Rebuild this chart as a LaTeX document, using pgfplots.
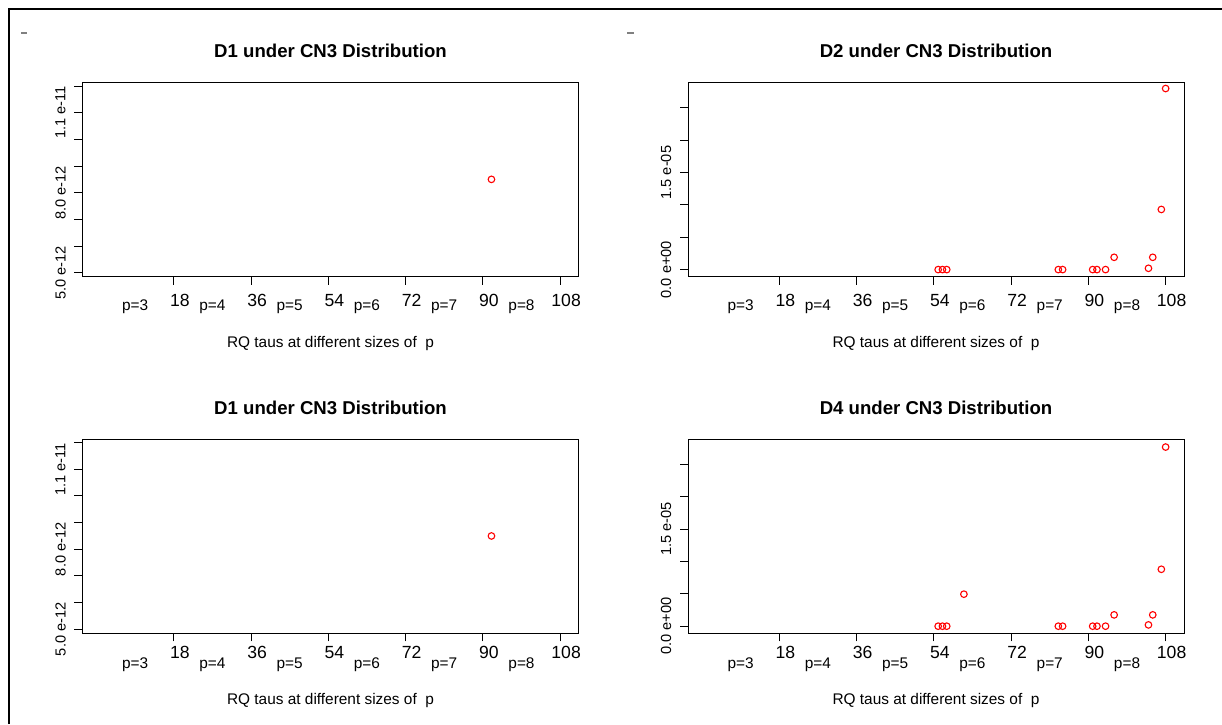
\documentclass[border=0pt]{standalone}
\usepackage{pgfplots}
\pgfplotsset{compat=1.18}
\usepackage{fontspec}
\setmainfont{Liberation Sans}

\pgfplotstableread{
x y
92 8.5e-12
}\Done

\pgfplotstableread{
x y
55 0
56 0
57 0
83 0
84 0
91 0
92 0
94 0
96 1.9e-6
104 0.2e-6
105 1.9e-6
107 9.3e-6
108 28.0e-6
}\Dtwo

\pgfplotstableread{
x y
55 0
56 0
57 0
61 4.95e-6
83 0
84 0
91 0
92 0
94 0
96 1.75e-6
104 0.2e-6
105 1.75e-6
107 8.8e-6
108 27.7e-6
}\Dfour

\pgfplotsset{
  rplot/.style={
    scale only axis, width=248pt, height=97pt,
    xmin=-3.28, xmax=112.28,
    axis line style={line width=0.5pt},
    tick align=outside, xtick pos=bottom, ytick pos=left,
    major tick length=4pt,
    tick style={line width=0.5pt, black},
    xtick={18,36,54,72,90,108},
    xticklabels={18,36,54,72,90,108},
    xticklabel style={font=\fontsize{8.8}{10}\selectfont, anchor=base, xshift=3pt},
    extra x ticks={9,27,45,63,81,99},
    extra x tick labels={p=3,p=4,p=5,p=6,p=7,p=8},
    extra x tick style={major tick length=0pt, xticklabel style={font=\fontsize{7.7}{9}\selectfont, xshift=-3pt}},
    yticklabel style={font=\fontsize{7.3}{9}\selectfont, rotate=90, anchor=center, yshift=7pt},
    scaled y ticks=false,
    title style={font=\bfseries\fontsize{9.3}{11}\selectfont, at={(0.5,1)}, anchor=base, yshift=6.5pt},
    xlabel={RQ taus at different sizes of\ \ p},
    xlabel style={font=\fontsize{7.7}{9}\selectfont, at={(0.5,0)}, anchor=base, yshift=-35.5pt},
  },
  dA/.style={
    ymin=4.85e-12, ymax=12.125e-12,
    ytick={5e-12,6e-12,7e-12,8e-12,9e-12,10e-12,11e-12,12e-12},
    yticklabels={5.0 e-12,{},{},8.0 e-12,{},{},1.1 e-11,{}},
  },
  dB/.style={
    ymin=-1.1e-6, ymax=28.9e-6,
    ytick={0,5e-6,10e-6,15e-6,20e-6,25e-6},
    yticklabels={0.0 e+00,{},{},1.5 e-05,{},{}},
  },
  toprow/.style={
    xticklabel style={yshift=-11pt},
    extra x tick style={xticklabel style={yshift=-5.7pt}},
  },
  botrow/.style={
    xticklabel style={yshift=-8.5pt},
    extra x tick style={xticklabel style={yshift=-9pt}},
  },
  pts/.style={only marks, mark=o, mark size=1.65pt, color=red, mark options={line width=0.55pt}},
}

\begin{document}
\begin{tikzpicture}
\useasboundingbox (0,0) rectangle (611pt,362pt);
\draw[line width=1.2pt] (4.5pt,0) -- (4.5pt,357.5pt) -- (611pt,357.5pt);
\draw[line width=0.6pt, gray] (10.5pt,345.5pt) -- (13.5pt,345.5pt);
\draw[line width=0.6pt, gray] (313.5pt,345.5pt) -- (317pt,345.5pt);

\begin{axis}[rplot, toprow, dA, at={(41.25pt,223.65pt)}, anchor=south west,
  title={D1 under CN3 Distribution}]
\addplot[pts] table[x=x,y=y] {\Done};
\end{axis}

\begin{axis}[rplot, toprow, dB, at={(344pt,223.65pt)}, anchor=south west,
  title={D2 under CN3 Distribution}]
\addplot[pts] table[x=x,y=y] {\Dtwo};
\end{axis}

\begin{axis}[rplot, botrow, dA, at={(41.25pt,45.35pt)}, anchor=south west,
  title={D1 under CN3 Distribution}]
\addplot[pts] table[x=x,y=y] {\Done};
\end{axis}

\begin{axis}[rplot, botrow, dB, at={(344pt,45.35pt)}, anchor=south west,
  title={D4 under CN3 Distribution}]
\addplot[pts] table[x=x,y=y] {\Dfour};
\end{axis}
\end{tikzpicture}
\end{document}
